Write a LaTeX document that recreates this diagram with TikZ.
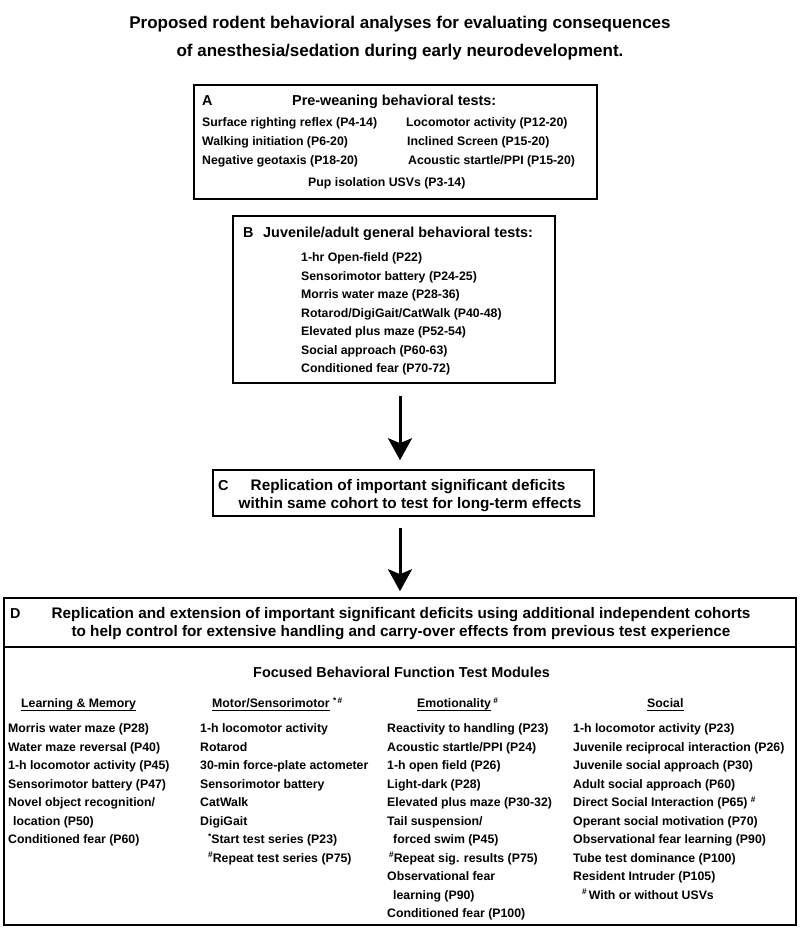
\documentclass[tikz,border=0pt]{standalone}
\usepackage{fontspec}
\setmainfont{Liberation Sans}
\usetikzlibrary{arrows.meta}
\newcommand\supmark[1]{\raisebox{4.5pt}{\fontsize{8.3}{8.3}\selectfont #1}}
\tikzset{
 box/.style={draw, line width=1.6pt, inner sep=0pt},
 item/.style={anchor=base west, inner sep=0pt, font=\bfseries\fontsize{12.3}{14}\selectfont},
 head/.style={anchor=base west, inner sep=0pt, font=\bfseries\fontsize{14.4}{17}\selectfont},
 headc/.style={anchor=base, inner sep=0pt, font=\bfseries\fontsize{14.4}{17}\selectfont},
 headD/.style={anchor=base, inner sep=0pt, font=\bfseries\fontsize{15.3}{18}\selectfont},
 ttl/.style={anchor=base, inner sep=0pt, font=\bfseries\fontsize{17}{20}\selectfont},
 bigarrow/.style={line width=3pt, -{Stealth[length=22pt,width=24pt,inset=5pt]}},
 ulline/.style={line width=1.3pt},
 divline/.style={line width=1.6pt},
}
\begin{document}
\begin{tikzpicture}[x=1pt,y=-1pt]
\useasboundingbox (0,0) rectangle (800,929);
% title
\node[ttl] (t1) at (400,28) {Proposed rodent behavioral analyses for evaluating consequences};
\node[ttl] (t2) at (400,56) {of anesthesia/sedation during early neurodevelopment.};
% boxes
\node[box, minimum width=403pt, minimum height=114pt] (boxA) at (395.5,142) {};
\node[box, minimum width=322pt, minimum height=167pt] (boxB) at (394,299.5) {};
\node[box, minimum width=381pt, minimum height=46pt] (boxC) at (403.5,493) {};
\node[box, minimum width=792pt, minimum height=327pt] (boxD) at (400,761.5) {};
\coordinate (dv) at (0,647);
\draw[divline] (boxD.west |- dv) -- (boxD.east |- dv);
% arrows
\coordinate (axis) at (400,0);
\draw[bigarrow, shorten <=12pt, shorten >=9pt] (boxB.south -| axis) -- (boxC.north -| axis);
\draw[bigarrow, shorten <=11pt, shorten >=6pt] (boxC.south -| axis) -- (boxD.north -| axis);
% box A
\node[head] (lA) at (202,105.2) {A};
\node[head] (hA) at (292,105.2) {Pre-weaning behavioral tests:};
\node[item] (a1) at (202,126.5) {Surface righting reflex (P4-14)};
\node[item] (a2) at (202,145.5) {Walking initiation (P6-20)};
\node[item] (a3) at (202,164.5) {Negative geotaxis (P18-20)};
\node[item] (a4) at (406,126.5) {Locomotor activity (P12-20)};
\node[item] (a5) at (407,145.5) {Inclined Screen (P15-20)};
\node[item] (a6) at (408,164.5) {Acoustic startle/PPI (P15-20)};
\node[item] (a7) at (308,186.5) {Pup isolation USVs (P3-14)};
% box B
\node[head] (lB) at (243,237.2) {B};
\node[head] (hB) at (263,237.2) {Juvenile/adult general behavioral tests:};
\node[item] (b1) at (301,261.5) {1-hr Open-field (P22)};
\node[item] (b2) at (301,280) {Sensorimotor battery (P24-25)};
\node[item] (b3) at (301,298.5) {Morris water maze (P28-36)};
\node[item] (b4) at (301,317) {Rotarod/DigiGait/CatWalk (P40-48)};
\node[item] (b5) at (301,335.5) {Elevated plus maze (P52-54)};
\node[item] (b6) at (301,354) {Social approach (P60-63)};
\node[item] (b7) at (301,372.5) {Conditioned fear (P70-72)};
% box C
\node[head] (lC) at (218,490) {C};
\node[headD] (c1) at (408,490) {Replication of important significant deficits};
\node[headD] (c2) at (410,508) {within same cohort to test for long-term effects};
% box D
\node[head] (lD) at (10,618) {D};
\node[headD] (d1) at (401,618) {Replication and extension of important significant deficits using additional independent cohorts};
\node[headD] (d2) at (401,636.5) {to help control for extensive handling and carry-over effects from previous test experience};
\node[headc] (foc) at (401.5,677) {Focused Behavioral Function Test Modules};
% column headers
\node[item] (hLM) at (21,707.5) {Learning \& Memory};
\node[item] (hMS) at (212,707.5) {Motor/Sensorimotor};
\node[item, anchor=base west] (sMS) at ([xshift=3pt]hMS.base east) {\supmark{*\,\#}};
\node[item] (hEM) at (417,707.5) {Emotionality};
\node[item, anchor=base west] (sEM) at ([xshift=2pt]hEM.base east) {\supmark{\#}};
\node[item] (hSO) at (647,707.5) {Social};
\foreach \n in {hLM,hMS,hEM,hSO}
  \draw[ulline] ([yshift=-3pt]\n.base west) -- ([yshift=-3pt]\n.base east);
% column 1
\node[item] (e1) at (8,732.5) {Morris water maze (P28)};
\node[item] (e2) at (8,751) {Water maze reversal (P40)};
\node[item] (e3) at (8,769.5) {1-h locomotor activity (P45)};
\node[item] (e4) at (8,788) {Sensorimotor battery (P47)};
\node[item] (e5) at (8,806.5) {Novel object recognition/};
\node[item] (e6) at (13,825) {location (P50)};
\node[item] (e7) at (8,843.5) {Conditioned fear (P60)};
% column 2
\node[item] (f1) at (200,732.5) {1-h locomotor activity};
\node[item] (f2) at (200,751) {Rotarod};
\node[item] (f3) at (200,769.5) {30-min force-plate actometer};
\node[item] (f4) at (200,788) {Sensorimotor battery};
\node[item] (f5) at (200,806.5) {CatWalk};
\node[item] (f6) at (200,825) {DigiGait};
\node[item] (f7) at (208,843.5) {\supmark{*}Start test series (P23)};
\node[item] (f8) at (208,862) {\supmark{\#}Repeat test series (P75)};
% column 3
\node[item] (g1) at (387,732.5) {Reactivity to handling (P23)};
\node[item] (g2) at (387,751) {Acoustic startle/PPI (P24)};
\node[item] (g3) at (387,769.5) {1-h open field (P26)};
\node[item] (g4) at (387,788) {Light-dark (P28)};
\node[item] (g5) at (387,806.5) {Elevated plus maze (P30-32)};
\node[item] (g6) at (387,825) {Tail suspension/};
\node[item] (g7) at (393,843.5) {forced swim (P45)};
\node[item] (g8) at (389,862) {\supmark{\#}Repeat sig. results (P75)};
\node[item] (g9) at (387,880.5) {Observational fear};
\node[item] (g10) at (393,899) {learning (P90)};
\node[item] (g11) at (387,917.5) {Conditioned fear (P100)};
% column 4
\node[item] (h1) at (573,732.5) {1-h locomotor activity (P23)};
\node[item] (h2) at (573,751) {Juvenile reciprocal interaction (P26)};
\node[item] (h3) at (573,769.5) {Juvenile social approach (P30)};
\node[item] (h4) at (573,788) {Adult social approach (P60)};
\node[item] (h5) at (573,806.5) {Direct Social Interaction (P65) \supmark{\#}};
\node[item] (h6) at (573,825) {Operant social motivation (P70)};
\node[item] (h7) at (573,843.5) {Observational fear learning (P90)};
\node[item] (h8) at (573,862) {Tube test dominance (P100)};
\node[item] (h9) at (573,880.5) {Resident Intruder (P105)};
\node[item] (h10) at (582,899) {\supmark{\#}\,With or without USVs};
\end{tikzpicture}
\end{document}
